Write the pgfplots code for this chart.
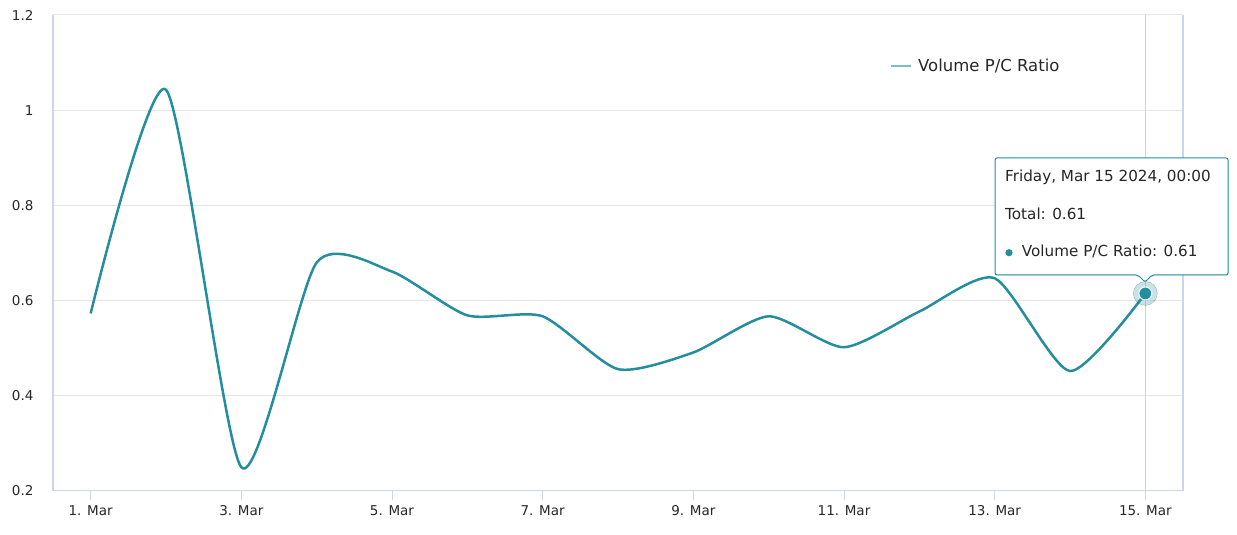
\documentclass[border=0pt]{standalone}
\usepackage{pgfplots}
\pgfplotsset{compat=1.18}
\usepackage{fontspec}
\setmainfont{DejaVu Sans}
\usetikzlibrary{shadows}
\definecolor{linec}{RGB}{36,141,158}
\definecolor{legline}{RGB}{124,190,200}
\definecolor{axcol}{RGB}{204,214,235}
\definecolor{gridc}{RGB}{230,230,230}
\definecolor{txt}{RGB}{38,38,38}
\begin{document}
\begin{tikzpicture}[x=1pt,y=1pt]
\useasboundingbox (0,0) rectangle (1237,535);
\begin{axis}[
  at={(53pt,44pt)}, anchor=south west,
  scale only axis, width=1130pt, height=476pt,
  xmin=0.5, xmax=15.5, ymin=0.2, ymax=1.2,
  xtick={1,3,5,7,9,11,13,15},
  xticklabels={1. Mar,3. Mar,5. Mar,7. Mar,9. Mar,11. Mar,13. Mar,15. Mar},
  ytick={0.2,0.4,0.6,0.8,1,1.2},
  yticklabels={0.2,0.4,0.6,0.8,1,1.2},
  ymajorgrids, grid style={gridc, line width=1pt},
  axis line style={draw=none},
  xtick pos=left, tick align=outside,
  major tick length=9pt,
  xtick style={axcol, line width=1pt},
  ytick style={draw=none},
  xticklabel style={font=\fontsize{13.5}{16}\selectfont, text=txt, yshift=-2pt},
  yticklabel style={font=\fontsize{13.5}{16}\selectfont, text=txt, xshift=-7pt},
  /pgf/number format/assume math mode=true,
  legend style={at={(rel axis cs:0.7407,0.893)}, anchor=west, draw=none, fill=none,
    font=\fontsize{16.5}{19}\selectfont, text=txt, inner sep=0pt,
    nodes={inner xsep=6pt}},
  legend cell align=left,
  legend image code/.code={\draw[#1] (0pt,0pt) -- (20pt,0pt);},
  clip=false,
]
\addplot[gray!35, line width=1pt, forget plot] coordinates {(15,0.2) (15,1.2)};
\addplot[linec, line width=2.5pt, smooth, tension=0.4, forget plot] coordinates {
(1,0.573) (2,1.043) (3,0.250) (4,0.680) (5,0.661) (6,0.569) (7,0.567)
(8,0.456) (9,0.491) (10,0.567) (11,0.502) (12,0.577) (13,0.647) (14,0.452) (15,0.615)};
\addplot[only marks, mark=*, mark size=12pt, mark options={fill=linec, draw=none, opacity=0.25}, forget plot] coordinates {(15,0.615)};
\addplot[only marks, mark=*, mark size=6.5pt, mark options={fill=linec, draw=white, line width=1pt}, forget plot] coordinates {(15,0.615)};
\addlegendimage{legline, line width=2pt}
\addlegendentry{Volume P/C Ratio}
\draw[axcol, line width=2pt] (rel axis cs:0,0) -- (rel axis cs:0,1);
\draw[axcol, line width=2pt] (rel axis cs:1,0) -- (rel axis cs:1,1);
\draw[axcol, line width=1pt] (rel axis cs:0,0) -- (rel axis cs:1,0);
\end{axis}
\draw[linec, line width=1pt, fill=white, rounded corners=2pt,
  drop shadow={opacity=0.12, shadow xshift=1pt, shadow yshift=-1pt}]
  (995,260) -- (1138,260) -- (1145,253) -- (1152,260) -- (1228,260) -- (1228,377) -- (995,377) -- cycle;
\node[anchor=base west, inner sep=0pt, font=\fontsize{15.2}{18}\selectfont, text=txt] at (1005,353.3) {Friday, Mar 15 2024, 00:00};
\node[anchor=base west, inner sep=0pt, font=\fontsize{15.2}{18}\selectfont, text=txt] at (1005,315) {Total: 0.61};
\fill[linec] (1009,282.3) circle (3.6pt);
\node[anchor=base west, inner sep=0pt, font=\fontsize{15.2}{18}\selectfont, text=txt] at (1021.7,278.3) {Volume P/C Ratio: 0.61};
\end{tikzpicture}
\end{document}
